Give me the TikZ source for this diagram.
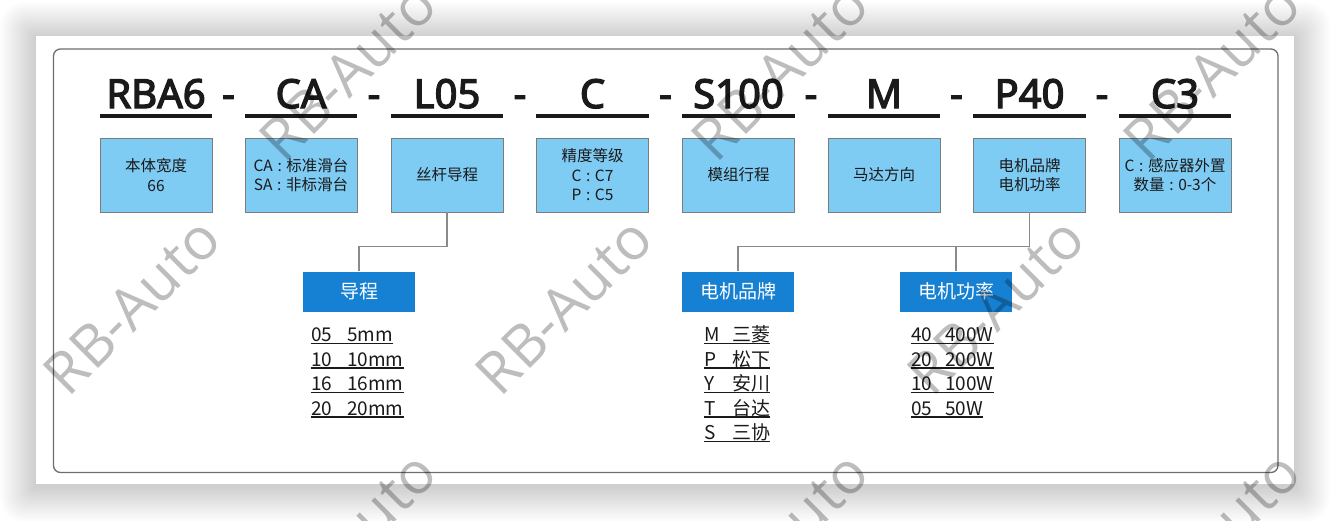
\documentclass[tikz,border=0pt]{standalone}
\usepackage{fontspec}
\setmainfont{Noto Sans CJK SC}
\newfontfamily\headfont{Noto Sans}[FakeBold=3.2]
\newfontfamily\wmfont{Open Sans}

\definecolor{boxblue}{HTML}{7ECBF3}
\definecolor{labelblue}{HTML}{1681D2}
\definecolor{frameline}{HTML}{6E6E6E}
\definecolor{boxline}{HTML}{7C7C7C}
\definecolor{linkgray}{HTML}{8A8A8A}
\definecolor{ink}{HTML}{1A1A1A}

% colon with even spacing on both sides
\newcommand\cln{\hspace{.3em}:\hspace{.3em}}

\tikzset{
  code/.style={font=\headfont\fontsize{40}{40}\selectfont, text=ink, anchor=base, inner sep=0pt},
  codebar/.style={draw=ink, line width=3.7pt},
  field/.style={draw=boxline, line width=0.9pt, fill=boxblue, minimum width=112pt, minimum height=74pt,
    inner sep=0pt, align=center, font=\fontsize{15.5}{19.5}\selectfont, text=ink},
  group/.style={fill=labelblue, minimum width=112pt, minimum height=40pt, inner sep=0pt,
    text=white, font=\fontsize{19}{19}\selectfont},
  link/.style={draw=linkgray, line width=1.4pt},
  opt/.style={anchor=base west, inner sep=0pt, font=\fontsize{19}{19}\selectfont, text=ink},
  uline/.style={draw=ink, line width=1.2pt},
  wmark/.style={font=\wmfont\fontsize{58}{58}\selectfont, text=black, text opacity=0.26, rotate=45, inner sep=0pt},
}

\begin{document}
\begin{tikzpicture}[x=1pt, y=-1pt]
\useasboundingbox (0,0) rectangle (1330,520);
\clip (0,0) rectangle (1330,520);
\fill[white] (0,0) rectangle (1330,520);

% soft shadow around the sheet
\foreach \s in {1,...,24}
  \fill[black, fill opacity=0.006, rounded corners=\s pt]
    ({36-1.5*\s},{38-1.5*\s}) rectangle ({1294+1.5*\s},{486+1.5*\s});
\fill[white] (36,36) rectangle (1294,484);

% frame
\draw[frameline, line width=1.3pt, rounded corners=7pt] (53.5,49) rectangle (1278,472.5);

% code fields, their bars and descriptions
\foreach \i/\x/\c/\t in {
  1/156/RBA6/{本体宽度\\66},
  2/301/CA/{CA\cln 标准滑台\\SA\cln 非标滑台},
  3/447/L05/{丝杆导程},
  4/592.5/C/{精度等级\\C\cln C7\\P\cln C5},
  5/738.5/S100/{模组行程},
  6/884/M/{马达方向},
  7/1029.5/P40/{电机品牌\\电机功率},
  8/1175/C3/{C\cln 感应器外置\\数量\cln 0-3个}}{
  \node[field] (b\i) at (\x,175) {\t};
  \node[code] (c\i) at (\x,108) {\c};
  \draw[codebar] ([yshift=21.5pt]b\i.north west) -- ([yshift=21.5pt]b\i.north east);
}

% separators
\foreach \x [count=\k] in {228.5,374,520,665.5,811,956.5,1102}
  \node[code] (d\k) at (\x,108) {-};

% option groups
\node[group] (g1) at (359,291.5) {导程};
\node[group] (g2) at (738,291.5) {电机品牌};
\node[group] (g3) at (956,291.5) {电机功率};

\path (b3.south) ++(0,34) coordinate (j3);
\path (b7.south) ++(0,34) coordinate (j7);
\draw[link] (b3.south) -- (j3) -| (g1.north);
\draw[link] (b7.south) -- (j7) -| (g2.north);
\draw[link] (g3.north) -- (g3.north |- j7);

% option lists
\foreach \a/\b [count=\k] in {05/5mm, 10/10mm, 16/16mm, 20/20mm}{
  \node[opt] (la\k) at (311,{341.5+24.5*(\k-1)}) {\a};
  \node[opt] (ra\k) at (347,{341.5+24.5*(\k-1)}) {\b};
  \draw[uline] ([yshift=-2pt]la\k.base west) -- ([yshift=-2pt]ra\k.base east);
}
\foreach \a/\b [count=\k] in {M/三菱, P/松下, Y/安川, T/台达, S/三协}{
  \node[opt] (lb\k) at (704,{341.5+24.5*(\k-1)}) {\a};
  \node[opt] (rb\k) at (732,{341.5+24.5*(\k-1)}) {\b};
  \draw[uline] ([yshift=-2pt]lb\k.base west) -- ([yshift=-2pt]rb\k.base east);
}
\foreach \a/\b [count=\k] in {40/400W, 20/200W, 10/100W, 05/50W}{
  \node[opt] (lc\k) at (911,{341.5+24.5*(\k-1)}) {\a};
  \node[opt] (rc\k) at (945,{341.5+24.5*(\k-1)}) {\b};
  \draw[uline] ([yshift=-2pt]lc\k.base west) -- ([yshift=-2pt]rc\k.base east);
}

% watermark
\foreach \x/\y [count=\k] in {348/72, 780/72, 1212/72, 132/306, 564/306, 996/306, 348/540, 780/540, 1212/540}
  \node[wmark] (w\k) at (\x,\y) {RB-Auto};
\end{tikzpicture}
\end{document}
